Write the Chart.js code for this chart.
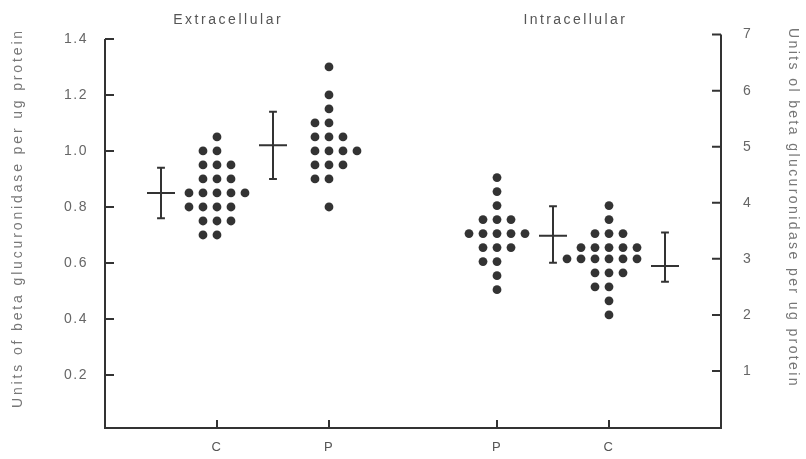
<!DOCTYPE html>
<html>
<head>
<meta charset="utf-8">
<script src="https://cdn.jsdelivr.net/npm/chart.js@4.4.0/dist/chart.umd.min.js"></script>
<style>
html, body { margin: 0; padding: 0; background: #fff; }
#wrap { width: 806px; height: 459px; }
</style>
</head>
<body>
<div id="wrap"><canvas id="dotChart" width="806" height="459"></canvas></div>
<script>
// groups along the bottom axis
var categories = ['C', 'P', 'P', 'C'];
var catX = [2, 4, 7, 9];
var groupTitles = ['Extracellular', 'Intracellular'];
var leftTicks = [0.2, 0.4, 0.6, 0.8, 1.0, 1.2, 1.4];
var rightTicks = [1, 2, 3, 4, 5, 6, 7];

// extracellular (left axis): one value per row, columns of dots in that row
var cExtRows = [1.05, 1.0, 0.95, 0.9, 0.85, 0.8, 0.75, 0.7];
var cExtCols = [[0], [-1, 0], [-1, 0, 1], [-1, 0, 1], [-2, -1, 0, 1, 2], [-2, -1, 0, 1], [-1, 0, 1], [-1, 0]];
var pExtRows = [1.3, 1.2, 1.15, 1.1, 1.05, 1.0, 0.95, 0.9, 0.8];
var pExtCols = [[0], [0], [0], [-1, 0], [-1, 0, 1], [-1, 0, 1, 2], [-1, 0, 1], [-1, 0], [0]];

// intracellular (right axis)
var pIntRows = [4.45, 4.2, 3.95, 3.7, 3.45, 3.2, 2.95, 2.7, 2.45];
var pIntCols = [[0], [0], [0], [-1, 0, 1], [-2, -1, 0, 1, 2], [-1, 0, 1], [-1, 0], [0], [0]];
var cIntRows = [3.95, 3.7, 3.45, 3.2, 3.0, 2.75, 2.5, 2.25, 2.0];
var cIntCols = [[0], [0], [-1, 0, 1], [-2, -1, 0, 1, 2], [-3, -2, -1, 0, 1, 2], [-1, 0, 1], [-1, 0], [0], [0]];

// mean with error bar: left of the dots outside, right of them inside the cell
var extMean = [0.85, 1.02];
var extLow = [0.76, 0.90];
var extHigh = [0.94, 1.14];
var intMean = [3.41, 2.87];
var intLow = [2.93, 2.59];
var intHigh = [3.94, 3.47];
var barSide = [-1, -1, 1, 1];

var ink = '#333333';
var font = "'Liberation Sans', Arial, sans-serif";

function dots(center, rows, cols) {
	var out = [];
	rows.forEach(function(v, i) {
		cols[i].forEach(function(c) {
			out.push({x: center + c * 0.25, y: v});
		});
	});
	return out;
}

function errorBars(centers, sides, mean, low, high) {
	var out = [];
	centers.forEach(function(cx, i) {
		var x = cx + sides[i];
		out.push({x: x, y: low[i]}, {x: x, y: high[i]}, {x: x, y: null});
		out.push({x: x - 0.07, y: high[i]}, {x: x + 0.07, y: high[i]}, {x: x, y: null});
		out.push({x: x - 0.07, y: low[i]}, {x: x + 0.07, y: low[i]}, {x: x, y: null});
		out.push({x: x - 0.25, y: mean[i]}, {x: x + 0.25, y: mean[i]}, {x: x, y: null});
	});
	return out;
}

function spaced(ctx, text, target) {
	ctx.letterSpacing = '0px';
	var w = ctx.measureText(text).width;
	ctx.letterSpacing = Math.max(0, (target - w) / text.length) + 'px';
}

var framePlugin = {
	id: 'frame',
	beforeDraw: function(chart) {
		chart.ctx.letterSpacing = '1.5px';
	},
	afterDraw: function(chart) {
		var ctx = chart.ctx;
		var xs = chart.scales.x, ys = chart.scales.y, ys2 = chart.scales.y2;
		var left = xs.getPixelForValue(0), right = xs.getPixelForValue(11);
		var bottom = ys.bottom;
		ctx.save();
		ctx.strokeStyle = ink;
		ctx.lineWidth = 2;
		ctx.beginPath();
		ctx.moveTo(left, ys.getPixelForValue(1.4));
		ctx.lineTo(left, bottom);
		ctx.lineTo(right, bottom);
		ctx.lineTo(right, ys2.getPixelForValue(7));
		leftTicks.forEach(function(t) {
			var p = ys.getPixelForValue(t);
			ctx.moveTo(left, p); ctx.lineTo(left + 9, p);
		});
		rightTicks.forEach(function(t) {
			var p = ys2.getPixelForValue(t);
			ctx.moveTo(right, p); ctx.lineTo(right - 9, p);
		});
		catX.forEach(function(c) {
			var p = xs.getPixelForValue(c);
			ctx.moveTo(p, bottom); ctx.lineTo(p, bottom - 8);
		});
		ctx.stroke();

		// group titles and axis titles
		ctx.fillStyle = '#555';
		ctx.textAlign = 'center';
		ctx.textBaseline = 'middle';
		ctx.font = '14px ' + font;
		spaced(ctx, groupTitles[0], 110);
		ctx.fillText(groupTitles[0], xs.getPixelForValue(2.2), 20);
		spaced(ctx, groupTitles[1], 104);
		ctx.fillText(groupTitles[1], xs.getPixelForValue(8.4), 20);

		ctx.fillStyle = '#777';
		var yTitle = 'Units of beta glucuronidase per ug protein';
		var y2Title = 'Units ol beta glucuronidase per ug protein';
		ctx.save();
		ctx.translate(18, 218);
		ctx.rotate(-Math.PI / 2);
		spaced(ctx, yTitle, 380);
		ctx.fillText(yTitle, 0, 0);
		ctx.restore();
		ctx.save();
		ctx.translate(793, 208);
		ctx.rotate(Math.PI / 2);
		spaced(ctx, y2Title, 360);
		ctx.fillText(y2Title, 0, 0);
		ctx.restore();
		ctx.restore();
	}
};

new Chart(document.getElementById('dotChart').getContext('2d'), {
	data: {
		datasets: [{
			type: 'scatter',
			data: dots(catX[0], cExtRows, cExtCols).concat(dots(catX[1], pExtRows, pExtCols)),
			yAxisID: 'y',
			backgroundColor: ink,
			borderWidth: 0,
			pointRadius: 4.4
		}, {
			type: 'scatter',
			data: dots(catX[2], pIntRows, pIntCols).concat(dots(catX[3], cIntRows, cIntCols)),
			yAxisID: 'y2',
			backgroundColor: ink,
			borderWidth: 0,
			pointRadius: 4.4
		}, {
			type: 'line',
			data: errorBars(catX.slice(0, 2), barSide.slice(0, 2), extMean, extLow, extHigh),
			yAxisID: 'y',
			borderColor: ink,
			borderWidth: 2,
			pointRadius: 0,
			spanGaps: false,
			fill: false
		}, {
			type: 'line',
			data: errorBars(catX.slice(2), barSide.slice(2), intMean, intLow, intHigh),
			yAxisID: 'y2',
			borderColor: ink,
			borderWidth: 2,
			pointRadius: 0,
			spanGaps: false,
			fill: false
		}]
	},
	options: {
		responsive: false,
		animation: false,
		devicePixelRatio: 1,
		layout: { padding: { top: 30, left: 0, right: 0, bottom: 0 } },
		plugins: { legend: { display: false }, tooltip: { enabled: false } },
		scales: {
			x: {
				type: 'linear',
				min: 0,
				max: 11,
				border: { display: false },
				grid: { display: false, drawTicks: false },
				afterBuildTicks: function(s) {
					s.ticks = catX.map(function(v) { return {value: v}; });
				},
				afterFit: function(s) { s.height = 31; s.paddingLeft = 0; s.paddingRight = 0; },
				ticks: {
					padding: 12,
					maxRotation: 0,
					color: '#555',
					font: { family: font, size: 13 },
					callback: function(v) { return categories[catX.indexOf(v)]; }
				}
			},
			y: {
				position: 'left',
				min: 0.0107,
				max: 1.432,
				border: { display: false },
				grid: { display: false, drawTicks: false },
				afterBuildTicks: function(s) {
					s.ticks = leftTicks.map(function(v) { return {value: v}; });
				},
				afterFit: function(s) { s.width = 105; s.paddingTop = 0; s.paddingBottom = 0; },
				ticks: {
					padding: 17,
					color: '#666',
					font: { family: font, size: 14 },
					callback: function(v) { return v.toFixed(1); }
				}
			},
			y2: {
				position: 'right',
				min: -0.018,
				max: 7.082,
				border: { display: false },
				grid: { display: false, drawTicks: false },
				afterBuildTicks: function(s) {
					s.ticks = rightTicks.map(function(v) { return {value: v}; });
				},
				afterFit: function(s) { s.width = 85; s.paddingTop = 0; s.paddingBottom = 0; },
				ticks: {
					padding: 22,
					color: '#666',
					font: { family: font, size: 14 },
					callback: function(v) { return String(v); }
				}
			}
		}
	},
	plugins: [framePlugin]
});
</script>
</body>
</html>
